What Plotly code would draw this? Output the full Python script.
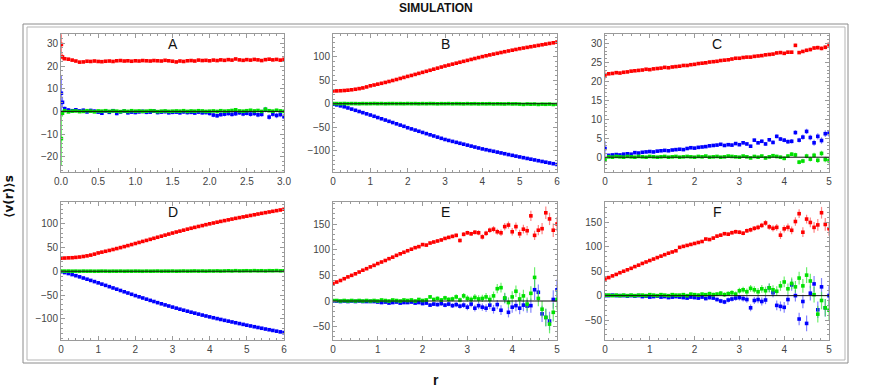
import numpy as np
import plotly.graph_objects as go
from plotly.subplots import make_subplots

# --------------------
# Data (one list per series, r bins are regular)
# --------------------
# Panel A: two bins right at r ~ 0 (the spike), then every 0.05 up to 3.0
A_R_HEAD = [0.005, 0.02]
A_RED = [29.5, 24.0,
         23.2, 23.0, 22.6, 22.2, 21.7, 21.8, 22.1, 22.0, 22.2, 22.0,
         21.9, 22.1, 22.2, 22.0, 22.3, 22.4, 22.2, 22.3, 22.1, 22.3,
         22.2, 22.4, 22.3, 22.2, 22.4, 22.3, 22.2, 22.5, 22.3, 22.1,
         21.8, 22.2, 22.0, 22.3, 22.4, 22.2, 22.6, 22.4, 22.5, 22.3,
         22.6, 22.4, 22.7, 22.5, 22.8, 22.6, 23.1, 22.7, 22.5, 22.8,
         22.6, 22.9, 22.7, 22.4, 22.8, 23.0, 22.7, 22.9, 22.6, 23.0]
A_BLUE = [8.0, 4.0,
          1.2, 0.6, 0.3, 0.7, 0.2, 0.5, -0.2, 0.4, 0.1, -0.3,
          -0.8, 0.2, -0.4, 0.3, -0.9, -0.2, 0.1, -0.6, -0.3, -0.5,
          -0.2, 0.0, -0.4, -0.3, 0.1, -0.5, -0.3, -0.1, -0.6, -0.4,
          -0.3, -0.6, -0.2, -0.5, -0.4, -0.7, -0.3, -0.6, -0.5, -0.9,
          -1.6, -1.9, -1.4, -1.2, -0.9, -1.3, -1.0, -0.6, -1.1, -0.8,
          -1.2, -0.9, -1.5, -1.3, 0.8, -2.5, -1.2, -1.8, -1.4, -2.3]
A_GREEN = [-12.0, -0.8,
           0.3, -0.2, 0.1, 0.2, -0.1, 0.0, 0.3, 0.1, -0.2, 0.2,
           0.1, 0.3, 0.0, 0.2, 0.1, -0.1, 0.2, 0.0, 0.3, 0.1,
           0.2, 0.0, 0.1, 0.3, 0.2, -0.1, 0.1, 0.2, 0.0, 0.1,
           0.2, 0.1, 0.3, 0.0, 0.2, 0.1, 0.3, 0.2, 0.0, 0.1,
           0.2, 0.0, 0.3, 0.1, 0.2, 0.4, 0.7, 0.2, 0.1, 0.3,
           0.5, 0.2, 0.4, 0.0, 1.0, 0.3, 0.1, 0.5, 0.2, 0.0]
A_RED_ERR = [4.5, 1.5,
             0.6, 0.5, 0.5, 0.4, 0.4, 0.4, 0.4, 0.4, 0.4, 0.4,
             0.4, 0.4, 0.4, 0.4, 0.4, 0.4, 0.4, 0.4, 0.4, 0.4,
             0.4, 0.4, 0.4, 0.4, 0.4, 0.4, 0.4, 0.4, 0.4, 0.4,
             0.4, 0.4, 0.4, 0.4, 0.4, 0.4, 0.4, 0.4, 0.4, 0.4,
             0.4, 0.4, 0.4, 0.4, 0.4, 0.4, 0.4, 0.4, 0.4, 0.4,
             0.5, 0.5, 0.5, 0.5, 0.5, 0.5, 0.5, 0.5, 0.5, 0.5]
A_BLUE_ERR = [8.0, 2.5,
              1.0, 0.9, 0.8, 0.8, 0.8, 0.8, 0.8, 0.8, 0.8, 0.8,
              0.8, 0.8, 0.8, 0.8, 0.8, 0.8, 0.8, 0.8, 0.8, 0.8,
              0.8, 0.8, 0.8, 0.8, 0.8, 0.8, 0.8, 0.8, 0.8, 0.8,
              0.9, 0.9, 0.9, 0.9, 0.9, 0.9, 0.9, 0.9, 0.9, 0.9,
              1.0, 1.0, 1.0, 1.0, 1.0, 1.0, 1.0, 1.0, 1.0, 1.0,
              1.1, 1.1, 1.1, 1.1, 1.2, 1.2, 1.2, 1.2, 1.2, 1.2]
A_GREEN_ERR = [12.0, 1.5,
               0.5, 0.4, 0.4, 0.4, 0.4, 0.4, 0.4, 0.4, 0.4, 0.4,
               0.4, 0.4, 0.4, 0.4, 0.4, 0.4, 0.4, 0.4, 0.4, 0.4,
               0.4, 0.4, 0.4, 0.4, 0.4, 0.4, 0.4, 0.4, 0.4, 0.4,
               0.4, 0.4, 0.4, 0.4, 0.4, 0.4, 0.4, 0.4, 0.4, 0.4,
               0.4, 0.4, 0.4, 0.4, 0.5, 0.5, 0.5, 0.5, 0.5, 0.5,
               0.5, 0.5, 0.5, 0.5, 0.6, 0.6, 0.6, 0.6, 0.6, 0.6]

# Panel B: r = 0 .. 6, step 0.1
B_RED = [27.0, 27.2, 27.5, 28.0, 28.7, 29.6, 30.7, 32.0, 33.5, 35.6,
         38.0, 39.7, 41.5, 43.3, 45.2, 47.2, 49.3, 51.4, 53.6, 55.8,
         58.0, 60.0, 62.2, 64.4, 66.6, 68.8, 71.0, 73.3, 75.5, 77.8,
         80.0, 82.0, 84.0, 86.0, 88.0, 90.0, 92.0, 94.0, 96.0, 98.0,
         100.0, 101.8, 103.6, 105.3, 107.0, 108.7, 110.4, 112.0, 113.6, 115.2,
         116.8, 118.2, 119.6, 121.0, 122.4, 123.8, 125.2, 126.6, 128.0, 129.3,
         130.8]
B_BLUE = [-1.0, -2.5, -4.5, -6.5, -9.0, -11.5, -14.0, -16.5, -19.0, -21.5,
          -24.0, -26.7, -29.4, -32.0, -34.7, -37.4, -40.0, -42.7, -45.4, -48.0,
          -51.0, -53.5, -56.0, -58.5, -61.0, -63.5, -66.0, -68.5, -71.0, -73.5,
          -76.0, -78.0, -80.0, -82.0, -84.0, -86.0, -88.0, -90.0, -92.0, -94.0,
          -96.0, -97.7, -99.4, -101.0, -102.8, -104.5, -106.2, -108.0, -109.6, -111.3,
          -113.0, -114.6, -116.2, -117.8, -119.4, -121.0, -122.6, -124.2, -125.8, -127.4,
          -129.0]
B_GREEN = [0.5, 0.3, 0.2, 0.4, 0.1, 0.3, 0.2, 0.0, 0.3, 0.1,
           0.2, 0.4, 0.1, 0.3, 0.0, 0.2, 0.3, 0.1, 0.2, 0.0,
           0.3, 0.1, 0.2, -0.1, 0.2, 0.0, 0.3, 0.1, -0.2, 0.1,
           0.0, 0.2, -0.1, 0.1, 0.0, -0.3, 0.1, -0.2, 0.0, -0.4,
           -0.1, -0.3, 0.0, -0.5, -0.2, -0.4, -0.6, -0.1, -0.5, -0.3,
           -0.8, -1.4, -0.6, -1.0, -0.7, -1.5, -0.9, -1.2, -0.8, -1.6,
           -1.1]

# Panel C: r = 0 .. 5, 61 bins
C_RED = [21.7, 22.0, 22.1, 22.3, 22.2, 22.4, 22.5, 22.7, 22.8, 22.9,
         23.0, 23.2, 23.1, 23.3, 23.4, 23.5, 23.7, 23.6, 23.8, 23.9,
         24.0, 24.2, 24.2, 24.4, 24.5, 24.7, 24.8, 24.9, 25.1, 25.2,
         25.3, 25.5, 25.6, 25.7, 25.9, 26.1, 26.1, 26.3, 26.4, 26.4,
         26.6, 26.7, 26.8, 27.0, 27.1, 27.2, 27.5, 27.6, 27.4, 27.7,
         27.7, 29.5, 27.6, 27.9, 28.2, 28.4, 28.8, 28.9, 28.7, 29.0,
         29.7]
C_BLUE = [2.3, 0.5, 0.6, 0.7, 0.6, 0.8, 0.9, 0.8, 1.2, 1.1,
          1.3, 1.4, 1.5, 1.4, 1.6, 1.7, 1.8, 1.7, 1.9, 2.0,
          2.1, 2.0, 2.3, 2.5, 2.4, 2.6, 2.7, 2.8, 3.0, 3.1,
          3.2, 3.4, 3.1, 3.3, 3.2, 3.6, 3.3, 3.8, 3.5, 2.9,
          4.5, 3.8, 4.2, 3.5, 4.6, 3.9, 5.5, 4.8, 4.5, 4.1,
          4.2, 6.5, 4.5, 5.3, 6.8, 5.2, 3.8, 5.5, 4.4, 6.2,
          6.3]
C_GREEN = [-0.6, 0.1, 0.0, 0.2, 0.1, 0.0, 0.2, 0.1, 0.0, 0.2,
           0.1, 0.0, 0.2, 0.1, 0.0, 0.1, 0.2, 0.0, 0.1, 0.2,
           0.0, 0.1, 0.2, 0.1, 0.0, 0.2, 0.1, 0.3, 0.0, 0.1,
           0.2, 0.0, 0.1, 0.3, 0.2, 0.1, 0.0, 0.3, 0.1, -0.2,
           0.2, 0.0, 0.3, -0.2, 0.1, 0.4, 0.2, 0.0, -0.3, 0.3,
           0.8, 0.6, -1.3, -1.0, 0.3, -0.5, 0.5, -0.8, 1.0, -0.6,
           -0.9]
C_RED_ERR = [1.2, 0.3, 0.2, 0.2, 0.2, 0.2, 0.2, 0.2, 0.2, 0.2,
             0.2, 0.2, 0.2, 0.2, 0.2, 0.2, 0.2, 0.2, 0.2, 0.2,
             0.2, 0.2, 0.2, 0.2, 0.2, 0.2, 0.2, 0.2, 0.2, 0.2,
             0.2, 0.2, 0.2, 0.2, 0.2, 0.2, 0.2, 0.2, 0.25, 0.25,
             0.25, 0.25, 0.3, 0.3, 0.3, 0.3, 0.3, 0.35, 0.35, 0.35,
             0.35, 0.4, 0.4, 0.4, 0.4, 0.45, 0.45, 0.5, 0.5, 0.5,
             0.6]
C_BLUE_ERR = [2.0, 0.3, 0.2, 0.2, 0.2, 0.2, 0.2, 0.2, 0.2, 0.2,
              0.2, 0.2, 0.2, 0.2, 0.2, 0.2, 0.2, 0.2, 0.2, 0.2,
              0.2, 0.2, 0.25, 0.25, 0.25, 0.25, 0.25, 0.3, 0.3, 0.3,
              0.3, 0.3, 0.3, 0.35, 0.35, 0.35, 0.35, 0.4, 0.4, 0.4,
              0.4, 0.4, 0.45, 0.45, 0.5, 0.5, 0.5, 0.55, 0.55, 0.6,
              0.6, 0.6, 0.65, 0.7, 0.7, 0.75, 0.8, 0.8, 0.85, 0.9,
              0.9]
C_GREEN_ERR = [0.8, 0.2, 0.15, 0.15, 0.15, 0.15, 0.15, 0.15, 0.15, 0.15,
               0.15, 0.15, 0.15, 0.15, 0.15, 0.15, 0.15, 0.15, 0.15, 0.15,
               0.15, 0.15, 0.15, 0.15, 0.2, 0.2, 0.2, 0.2, 0.2, 0.2,
               0.2, 0.2, 0.25, 0.25, 0.25, 0.25, 0.3, 0.3, 0.3, 0.3,
               0.35, 0.35, 0.35, 0.4, 0.4, 0.4, 0.45, 0.45, 0.5, 0.5,
               0.5, 0.55, 0.55, 0.6, 0.6, 0.65, 0.65, 0.7, 0.7, 0.75,
               0.75]

# Panel D: r = 0 .. 6, step 0.1
D_RED = [27.5, 27.6, 28.0, 28.3, 29.0, 29.8, 30.9, 32.2, 33.8, 35.8,
         38.3, 40.0, 41.8, 43.6, 45.5, 47.5, 49.5, 51.6, 53.7, 55.9,
         58.1, 60.3, 62.5, 64.6, 66.8, 69.0, 71.2, 73.4, 75.6, 77.8,
         80.0, 82.1, 84.0, 86.0, 88.1, 90.0, 91.9, 93.8, 95.6, 97.5,
         99.3, 101.0, 102.7, 104.4, 106.0, 107.6, 109.2, 110.8, 112.3, 113.8,
         115.3, 116.8, 118.3, 119.8, 121.3, 122.7, 124.1, 125.5, 126.9, 128.3,
         129.8]
D_BLUE = [-1.0, -2.8, -4.8, -7.0, -9.3, -11.7, -14.2, -16.7, -19.2, -21.7,
          -24.3, -27.0, -29.6, -32.3, -35.0, -37.6, -40.3, -43.0, -45.6, -48.3,
          -51.0, -53.5, -56.0, -58.5, -61.0, -63.4, -65.8, -68.2, -70.5, -72.8,
          -75.1, -77.3, -79.5, -81.6, -83.7, -85.8, -87.8, -89.8, -91.8, -93.7,
          -95.6, -97.4, -99.2, -101.0, -102.8, -104.5, -106.2, -107.9, -109.6, -111.3,
          -113.0, -114.6, -116.2, -117.8, -119.4, -121.0, -122.5, -124.0, -125.5, -127.0,
          -128.5]
D_GREEN = [0.4, 0.2, 0.3, 0.1, 0.2, 0.0, 0.3, 0.1, 0.2, 0.0,
           0.1, 0.3, 0.2, 0.0, 0.2, 0.1, 0.3, 0.0, 0.2, 0.1,
           0.3, 0.2, 0.0, 0.3, 0.1, 0.2, 0.4, 0.1, 0.3, 0.2,
           0.4, 0.1, 0.3, 0.5, 0.2, 0.4, 0.6, 0.3, 0.5, 0.2,
           0.6, 0.4, 0.7, 0.3, 0.6, 0.9, 0.5, 1.1, 0.6, 0.8,
           1.0, 0.7, 1.2, 0.8, 1.0, 0.6, 1.1, 0.9, 1.3, 0.8,
           1.0]

# Panel E: r = 0 .. 5, 61 bins
E_RED = [34, 37, 40, 43.5, 47, 50, 53, 56.5, 60, 63,
         66.5, 69.5, 73, 76, 79, 82.5, 85.5, 89, 92, 95,
         98, 101, 104, 106, 110, 109, 113, 115, 117, 119,
         122, 124, 126, 128, 118, 130, 133, 131, 134, 133,
         125, 132, 138, 140, 135, 133, 145, 148, 135, 145,
         131, 140, 137, 166, 128, 138, 141, 172, 160, 138,
         150]
E_BLUE = [0, 0, -1, 0, -1, 0, -1, 0, -1, -1,
          -1, -1, -2, -3, -2, -4, -3, -2, -4, -3,
          -3, -2, -4, -3, -5, -4, -8, -6, -7, -5,
          -8, -6, -9, -7, -10, -8, -12, -6, -14, -9,
          -12, -14, -8, -16, -7, -18, 5, -22, -12, -9,
          -14, -8, -10, -9, 22, 17, -25, -32, -39, 3,
          22]
E_GREEN = [1, 1, 0, 1, 0, 1, 0, 1, 0, 1,
           0, 1, 0, 2, 1, 0, 2, 1, 0, 2,
           1, 2, 0, 3, 1, 2, 8, 3, 5, 2,
           6, 3, 4, 8, 2, 10, 5, 3, 7, 4,
           5, 8, 3, 10, 24, 26, 6, -3, 8, 19,
           4, 10, -6, 15, 46, 5, -16, -32, -45, -22,
           3]
E_RED_ERR = [1.0, 1.0, 1.0, 1.0, 1.0, 1.0, 1.0, 1.2, 1.2, 1.2,
             1.2, 1.3, 1.3, 1.4, 1.4, 1.5, 1.5, 1.6, 1.6, 1.8,
             1.8, 2.0, 2.0, 2.2, 2.2, 2.4, 2.5, 2.6, 2.8, 3.0,
             3.0, 3.2, 3.4, 3.5, 3.8, 4.0, 4.0, 4.2, 4.5, 4.8,
             5.0, 5.2, 5.5, 6.0, 6.0, 6.5, 7.0, 7.0, 7.5, 8.0,
             8.0, 8.5, 9.0, 10.0, 9.0, 10.0, 11.0, 12.0, 12.0, 13.0,
             14.0]
E_ERR = [1.0, 1.0, 1.0, 1.0, 1.2, 1.2, 1.2, 1.2, 1.4, 1.4,
         1.5, 1.5, 1.6, 1.6, 1.8, 1.8, 2.0, 2.0, 2.2, 2.4,
         2.5, 2.6, 2.8, 3.0, 3.0, 3.2, 3.4, 3.6, 3.8, 4.0,
         4.2, 4.4, 4.6, 5.0, 5.0, 5.5, 6.0, 6.0, 6.5, 7.0,
         7.0, 7.5, 8.0, 8.5, 9.0, 9.5, 10.0, 10.0, 11.0, 11.0,
         12.0, 12.0, 13.0, 14.0, 20.0, 15.0, 16.0, 17.0, 18.0, 18.0,
         20.0]

# Panel F: r = 0 .. 5, 61 bins
F_RED = [34, 37, 40.5, 43.5, 47, 50, 53, 56, 59.5, 62.5,
         66, 69, 72, 75, 78, 81, 84, 87, 89.5, 92,
         99, 101, 103, 105, 107, 109, 111, 116, 115, 118,
         122, 124, 127, 126, 129, 131, 130, 128, 133, 135,
         138, 140, 144, 149, 141, 138, 140, 124, 137, 140,
         134, 152, 168, 130, 157, 150, 140, 145, 170, 146,
         137]
F_BLUE = [0, 0, 1, 0, 0, 0, -1, 0, -1, 0,
          -2, -1, -3, -2, -1, -3, -2, -4, -3, -2,
          -3, -4, -5, -3, -4, -5, -3, -6, -4, -5,
          -8, -11, -13, -9, -7, -5, -4, -6, -8, -25,
          -10, -8, -12, -9, 16, 6, -20, -22, -24, -8,
          22, 0, -48, -12, -57, 5, 24, -29, 18, -25,
          0]
F_GREEN = [1, 1, 0, 1, 0, 1, 0, 1, 0, 1,
           1, 0, 2, 1, 0, 2, 1, 0, 2, 1,
           1, 2, 0, 3, 2, 1, 3, 2, 4, 2,
           3, 5, 2, 4, 6, 3, 10, 12, 8, 15,
           12, 8, 14, 10, 16, 12, 9, 20, 28, 14,
           25, 18, 36, 20, 42, 30, 2, -38, -10, -25,
           -30]
F_RED_ERR = [1.0, 1.0, 1.0, 1.0, 1.0, 1.0, 1.0, 1.2, 1.2, 1.2,
             1.2, 1.3, 1.3, 1.4, 1.4, 1.5, 1.5, 1.6, 1.6, 1.8,
             1.8, 2.0, 2.0, 2.2, 2.2, 2.4, 2.5, 2.6, 2.8, 3.0,
             3.0, 3.2, 3.4, 3.5, 3.8, 4.0, 4.0, 4.2, 4.5, 4.8,
             5.0, 5.2, 5.5, 6.0, 6.0, 6.5, 7.0, 8.0, 7.5, 8.0,
             8.0, 8.5, 9.0, 10.0, 9.0, 10.0, 11.0, 12.0, 12.0, 13.0,
             14.0]
F_ERR = [1.0, 1.0, 1.0, 1.0, 1.2, 1.2, 1.2, 1.2, 1.4, 1.4,
         1.5, 1.5, 1.6, 1.6, 1.8, 1.8, 2.0, 2.0, 2.2, 2.4,
         2.5, 2.6, 2.8, 3.0, 3.0, 3.2, 3.4, 3.6, 3.8, 4.0,
         4.2, 4.4, 4.6, 5.0, 5.0, 5.5, 6.0, 6.0, 6.5, 7.0,
         7.0, 7.5, 8.0, 8.5, 9.0, 9.5, 10.0, 10.0, 11.0, 11.0,
         12.0, 12.0, 13.0, 14.0, 16.0, 15.0, 16.0, 17.0, 18.0, 18.0,
         20.0]

# --------------------
# Panel settings (layout only)
# --------------------
W, H = 872, 390
FONT = "Liberation Sans, Arial, sans-serif"
RED, BLUE, GREEN = "#ff0000", "#0000ff", "#00e000"
ERR_COL = {RED: "rgba(255,90,90,0.75)", BLUE: "rgba(80,80,255,0.7)", GREEN: "rgba(60,235,60,0.75)"}

# x pixel spans of the three columns, y pixel spans of the two rows
COLS_PX = [(61, 284), (333, 557), (605, 829)]
ROWS_PX = [(34, 172), (202, 340)]


def panel(letter, row, col, r, series, xr, yr, xdt, xminor, ydt, yminor, xfmt=None):
    return dict(letter=letter, row=row, col=col, r=r, series=series, xr=xr, yr=yr,
                xdt=xdt, xminor=xminor, ydt=ydt, yminor=yminor, xfmt=xfmt)


def label(text, xpx, ypx, size, family=FONT, angle=0):
    # text centred on a page pixel position
    fig.add_annotation(text=text, x=xpx / W, y=1 - ypx / H, xref="paper", yref="paper",
                       xanchor="center", yanchor="middle", textangle=angle, showarrow=False,
                       font=dict(family=family, size=size, color="#111111"))


r_A = A_R_HEAD + list(np.linspace(0.05, 3.0, len(A_RED) - 2))
PANELS = [
    panel("A", 1, 1, r_A,
          [(A_RED, A_RED_ERR, RED), (A_BLUE, A_BLUE_ERR, BLUE), (A_GREEN, A_GREEN_ERR, GREEN)],
          [0, 3], [-26.7, 34.1], 0.5, 0.1, 10, 2, ".1f"),
    panel("B", 1, 2, np.linspace(0, 6, len(B_RED)),
          [(B_RED, None, RED), (B_BLUE, None, BLUE), (B_GREEN, None, GREEN)],
          [0, 6], [-145, 148], 1, 0.2, 50, 10),
    panel("C", 1, 3, np.linspace(0, 5, len(C_RED)),
          [(C_RED, C_RED_ERR, RED), (C_BLUE, C_BLUE_ERR, BLUE), (C_GREEN, C_GREEN_ERR, GREEN)],
          [0, 5], [-3.9, 32.5], 1, 0.2, 5, 1),
    panel("D", 2, 1, np.linspace(0, 6, len(D_RED)),
          [(D_RED, None, RED), (D_BLUE, None, BLUE), (D_GREEN, None, GREEN)],
          [0, 6], [-144, 145], 1, 0.2, 50, 10),
    panel("E", 2, 2, np.linspace(0, 5, len(E_RED)),
          [(E_RED, E_RED_ERR, RED), (E_BLUE, E_ERR, BLUE), (E_GREEN, E_ERR, GREEN)],
          [0, 5], [-76, 193], 1, 0.2, 50, 10),
    panel("F", 2, 3, np.linspace(0, 5, len(F_RED)),
          [(F_RED, F_RED_ERR, RED), (F_BLUE, F_ERR, BLUE), (F_GREEN, F_ERR, GREEN)],
          [0, 5], [-91, 192], 1, 0.2, 50, 10),
]

fig = make_subplots(rows=2, cols=3)

for p in PANELS:
    for vals, err, color in p["series"]:
        err_y = dict(type="constant", value=1.2) if err is None else dict(type="data", array=err)
        err_y.update(visible=True, color=ERR_COL[color], thickness=1.2, width=0)
        fig.add_trace(go.Scatter(
            x=p["r"], y=vals, mode="markers",
            marker=dict(symbol="square", size=3.6, color=color, line=dict(width=0)),
            error_y=err_y, hoverinfo="skip", showlegend=False,
        ), row=p["row"], col=p["col"])

    fig.add_hline(y=0, line=dict(color="#111111", width=1), row=p["row"], col=p["col"])

    x0, x1 = COLS_PX[p["col"] - 1]
    y0, y1 = ROWS_PX[p["row"] - 1]
    axis_common = dict(
        showline=True, linecolor="#9a9a9a", linewidth=1, mirror="allticks",
        ticks="inside", ticklen=4, tickcolor="#9a9a9a", tickwidth=1,
        showgrid=False, zeroline=False, automargin=False,
        tickfont=dict(family=FONT, size=10, color="#444444"),
    )
    fig.update_xaxes(domain=[x0 / W, x1 / W], range=p["xr"], dtick=p["xdt"], tick0=0,
                     tickformat=p["xfmt"],
                     minor=dict(dtick=p["xminor"], ticks="inside", ticklen=2, tickcolor="#9a9a9a"),
                     **axis_common, row=p["row"], col=p["col"])
    fig.update_yaxes(domain=[1 - y1 / H, 1 - y0 / H], range=p["yr"], dtick=p["ydt"], tick0=0,
                     minor=dict(dtick=p["yminor"], ticks="inside", ticklen=2, tickcolor="#9a9a9a"),
                     **axis_common, row=p["row"], col=p["col"])

    label(p["letter"], (x0 + x1) / 2, y0 + 10, 14)

# double frame around the panels
fig.add_shape(type="rect", xref="paper", yref="paper",
              x0=23 / W, x1=848 / W, y0=1 - 363 / H, y1=1 - 24 / H,
              line=dict(color="#8c8c8c", width=1))
fig.add_shape(type="rect", xref="paper", yref="paper",
              x0=27 / W, x1=845 / W, y0=1 - 360 / H, y1=1 - 27 / H,
              line=dict(color="#b5b5b5", width=1))

label("<b>SIMULATION</b>", 436, 8, 12)
label("<b>⟨v(r)⟩s</b>", 9, 197, 12, family="DejaVu Sans, sans-serif", angle=-90)
label("<b>r</b>", 436, 380, 14)

fig.update_layout(
    width=W, height=H,
    margin=dict(l=0, r=0, t=0, b=0, pad=0, autoexpand=False),
    paper_bgcolor="white", plot_bgcolor="white",
    showlegend=False,
    font=dict(family=FONT),
)

# the page's default body margin would push the whole figure 8px down/right
fig.write_html("out.html", config={"displayModeBar": False},
               post_script="document.body.style.margin = '0';")
